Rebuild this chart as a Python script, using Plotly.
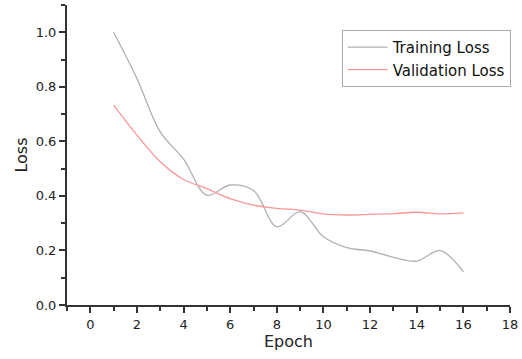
import plotly.graph_objects as go

epochs = list(range(1, 17))
training_loss = [1.00, 0.83, 0.635, 0.535, 0.403, 0.44, 0.42, 0.287, 0.342, 0.25, 0.21, 0.198, 0.175, 0.161, 0.199, 0.122]
validation_loss = [0.733, 0.623, 0.525, 0.46, 0.427, 0.39, 0.366, 0.354, 0.348, 0.334, 0.33, 0.332, 0.335, 0.34, 0.334, 0.338]

FONT = "DejaVu Sans"

fig = go.Figure()
fig.add_trace(go.Scatter(x=epochs, y=training_loss, mode="lines", name="Training Loss",
                         line=dict(color="#b0b0b0", width=1.3, shape="spline", smoothing=1.0)))
fig.add_trace(go.Scatter(x=epochs, y=validation_loss, mode="lines", name="Validation Loss",
                         line=dict(color="#ff9696", width=1.3, shape="spline", smoothing=1.0)))

axis_common = dict(showgrid=False, zeroline=False, showline=True, linecolor="#333333", linewidth=2,
                   ticks="outside", tickcolor="#333333", tickwidth=1.5, ticklen=6,
                   tickfont=dict(family=FONT, size=13, color="#222222"),
                   title_font=dict(family=FONT, size=16, color="#222222"))

fig.update_xaxes(range=[-1, 18], tick0=0, dtick=2, title_text="Epoch", title_standoff=4,
                 minor=dict(dtick=1, ticks="outside", ticklen=4, tickcolor="#333333", tickwidth=1.5),
                 **axis_common)
fig.update_yaxes(range=[0, 1.1], tick0=0, dtick=0.2, tickformat=".1f", title_text="Loss", title_standoff=4,
                 minor=dict(dtick=0.1, ticks="outside", ticklen=4, tickcolor="#333333", tickwidth=1.5),
                 **axis_common)

fig.update_layout(
    width=522, height=359,
    margin=dict(l=67, r=12, t=5, b=54),
    paper_bgcolor="white", plot_bgcolor="white",
    showlegend=True,
    legend=dict(x=0.62, y=0.917, xanchor="left", yanchor="top",
                bordercolor="#aaaaaa", borderwidth=1, bgcolor="white",
                font=dict(family=FONT, size=15, color="#111111"),
                tracegroupgap=0, itemwidth=40),
)

fig.write_html("out.html")
